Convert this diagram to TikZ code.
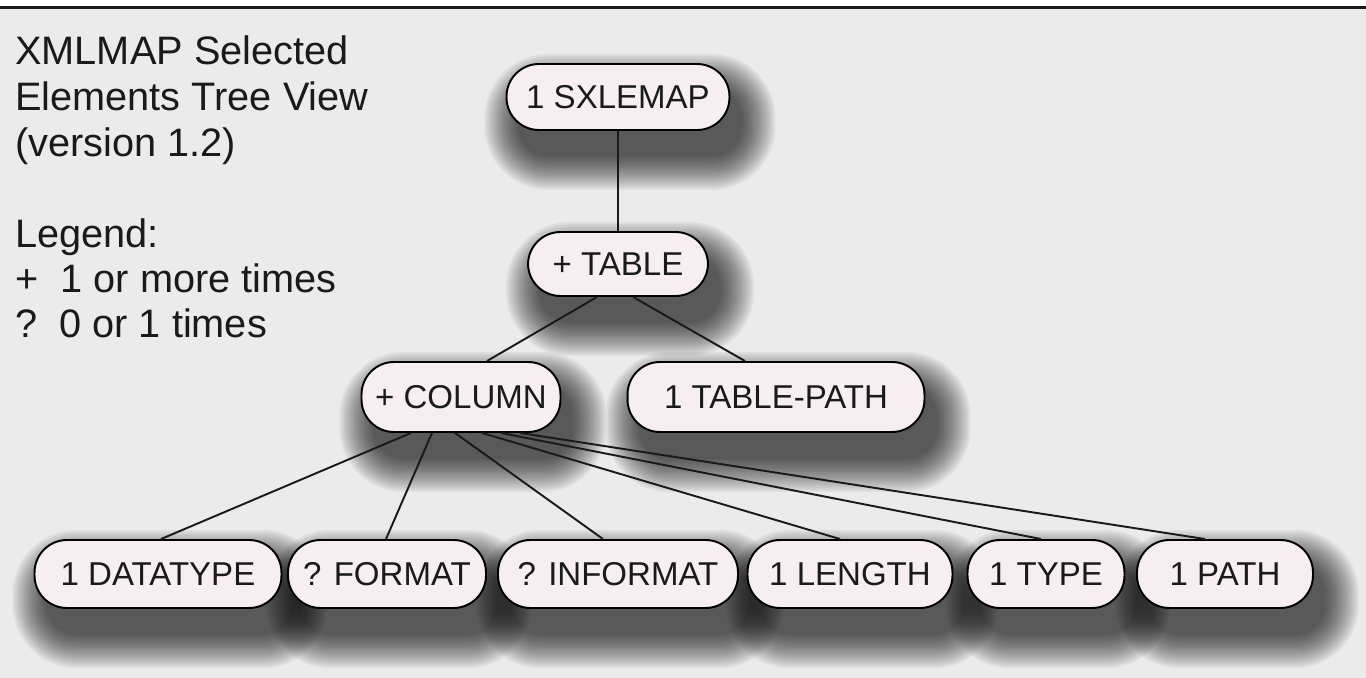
\documentclass[tikz,border=0pt]{standalone}
\usepackage{fontspec}
\setmainfont{Liberation Sans}
\definecolor{bg}{RGB}{235,235,235}
\definecolor{nodefill}{RGB}{246,238,240}
\definecolor{ink}{RGB}{26,26,26}
\pgfdeclarelayer{back}
\pgfdeclarelayer{shade}
\pgfsetlayers{back,shade,main}
\newcommand\nodeshade[1]{%
  \begin{pgfonlayer}{shade}
    \foreach \k in {0,...,15}{
      \pgfmathsetmacro\r{0.62+\k*0.044}
      \fill[black, opacity=0.055, rounded corners=\r cm]
        ([shift={(12-2.2*\k,26+2.2*\k)}]#1.south west) rectangle ([shift={(12+2.2*\k,24-2.2*\k)}]#1.north east);
    }
  \end{pgfonlayer}}
\begin{document}
\begin{tikzpicture}[x=0.02cm,y=-0.02cm,
  elem/.style={draw=black, line width=1.1pt, fill=nodefill, rounded corners=0.65cm,
    font=\fontsize{18.8}{20}\selectfont, inner sep=0pt, text=ink},
  link/.style={line width=1.1pt, draw=ink},
  title/.style={anchor=base west, inner sep=0pt, text=ink, font=\fontsize{22.6}{25}\selectfont}]
\useasboundingbox (0,0) rectangle (1366,678);
\begin{pgfonlayer}{back}
\fill[white] (0,0) rectangle (1366,678);
\fill[bg] (0,9) rectangle (1366,678);
\draw[line width=1.5pt, draw=ink] (0,7.5) -- (1366,7.5);
\end{pgfonlayer}

\node[title] (t1) at (15,65) {XMLMAP Selected};
\node[title] (t2) at (15,111) {Elements Tree View};
\node[title] (t3) at (15,157) {(version 1.2)};
\node[title] (t4) at (15,248) {Legend:};
\node[title] (t5) at (15,293) {+\ \ 1 or more times};
\node[title] (t6) at (15,338) {?\ \ 0 or 1 times};

\node[elem, minimum width=4.46cm, minimum height=1.32cm] (sx) at (618,97) {1 SXLEMAP};
\node[elem, minimum width=3.6cm, minimum height=1.28cm] (table) at (618,264) {+ TABLE};
\node[elem, minimum width=3.98cm, minimum height=1.4cm] (column) at (461,397) {+ COLUMN};
\node[elem, minimum width=5.94cm, minimum height=1.4cm] (tpath) at (776,397) {1 TABLE-PATH};
\node[elem, minimum width=4.94cm, minimum height=1.36cm] (datatype) at (158,574) {1 DATATYPE};
\node[elem, minimum width=3.96cm, minimum height=1.36cm] (format) at (387,574) {? FORMAT};
\node[elem, minimum width=4.8cm, minimum height=1.36cm] (informat) at (618,574) {? INFORMAT};
\node[elem, minimum width=4.1cm, minimum height=1.36cm] (length) at (850,574) {1 LENGTH};
\node[elem, minimum width=3.14cm, minimum height=1.36cm] (type) at (1046,574) {1 TYPE};
\node[elem, minimum width=3.52cm, minimum height=1.36cm] (path) at (1225,574) {1 PATH};

\foreach \n in {sx,table,column,tpath,datatype,format,informat,length,type,path}{\nodeshade{\n}}

\draw[link] (sx.south) -- (table.north);
\draw[link] ([xshift=-0.42cm]table.south) -- ([xshift=0.52cm]column.north);
\draw[link] ([xshift=0.30cm]table.south) -- ([xshift=-0.62cm]tpath.north);
\draw[link] ([xshift=-1.0cm]column.south) -- ([xshift=0.06cm]datatype.north);
\draw[link] ([xshift=-0.58cm]column.south) -- ([xshift=-0.02cm]format.north);
\draw[link] ([xshift=-0.12cm]column.south) -- ([xshift=-0.30cm]informat.north);
\draw[link] ([xshift=0.42cm]column.south) -- ([xshift=-0.20cm]length.north);
\draw[link] ([xshift=0.80cm]column.south) -- ([xshift=-0.10cm]type.north);
\draw[link] ([xshift=1.18cm]column.south) -- ([xshift=-0.40cm]path.north);
\end{tikzpicture}
\end{document}
